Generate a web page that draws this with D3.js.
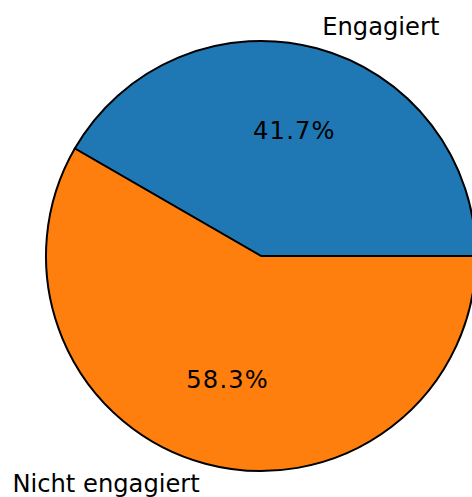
<!DOCTYPE html>
<html>
<head>
<meta charset="utf-8">
<script src="https://cdn.jsdelivr.net/npm/d3@7"></script>
<style>
  body { margin: 0; background: #fff; }
  svg text { font-family: "DejaVu Sans", sans-serif; }
</style>
</head>
<body>
<div id="chart"></div>
<script>
// Daten
const categories = ["Engagiert", "Nicht engagiert"];
const counts = [5, 7];
const colors = ["#1f77b4", "#ff7f0e"];

const width = 472, height = 497;
const cx = 261, cy = 256, radius = 215;

const svg = d3.select('#chart').append('svg')
    .attr('width', width)
    .attr('height', height);

const g = svg.append('g').attr('transform', `translate(${cx},${cy})`);

// wie matplotlib: Start bei 3 Uhr, gegen den Uhrzeigersinn
const pie = d3.pie()
    .sort(null)
    .startAngle(Math.PI / 2)
    .endAngle(Math.PI / 2 - 2 * Math.PI);

const data = categories.map((c, i) => ({name: c, value: counts[i], color: colors[i]}));
const arcs = pie.value(d => d.value)(data);
const total = d3.sum(counts);

const arc = d3.arc().innerRadius(0).outerRadius(radius);

g.selectAll('path.slice')
    .data(arcs)
    .join('path')
    .attr('class', 'slice')
    .attr('d', arc)
    .attr('fill', d => d.data.color)
    .attr('stroke', 'black')
    .attr('stroke-width', 2)
    .attr('stroke-linejoin', 'round');

function pos(d, f) {
    const a = (d.startAngle + d.endAngle) / 2;
    return [radius * f * Math.sin(a), -radius * f * Math.cos(a)];
}

// Beschriftungen
g.selectAll('text.label')
    .data(arcs)
    .join('text')
    .attr('class', 'label')
    .attr('x', d => pos(d, 1.1)[0])
    .attr('y', d => pos(d, 1.1)[1])
    .attr('dy', '0.3em')
    .attr('text-anchor', d => pos(d, 1.1)[0] > 0 ? 'start' : 'end')
    .style('font-size', '24.2px')
    .style('fill', '#000')
    .text(d => d.data.name);

g.selectAll('text.pct')
    .data(arcs)
    .join('text')
    .attr('class', 'pct')
    .attr('x', d => pos(d, 0.6)[0])
    .attr('y', d => pos(d, 0.6)[1])
    .attr('dy', '0.32em')
    .attr('text-anchor', 'middle')
    .style('font-size', '24.2px')
    .style('letter-spacing', '1.2px')
    .style('fill', '#000')
    .text(d => (d.data.value / total * 100).toFixed(1) + '%');
</script>
</body>
</html>
